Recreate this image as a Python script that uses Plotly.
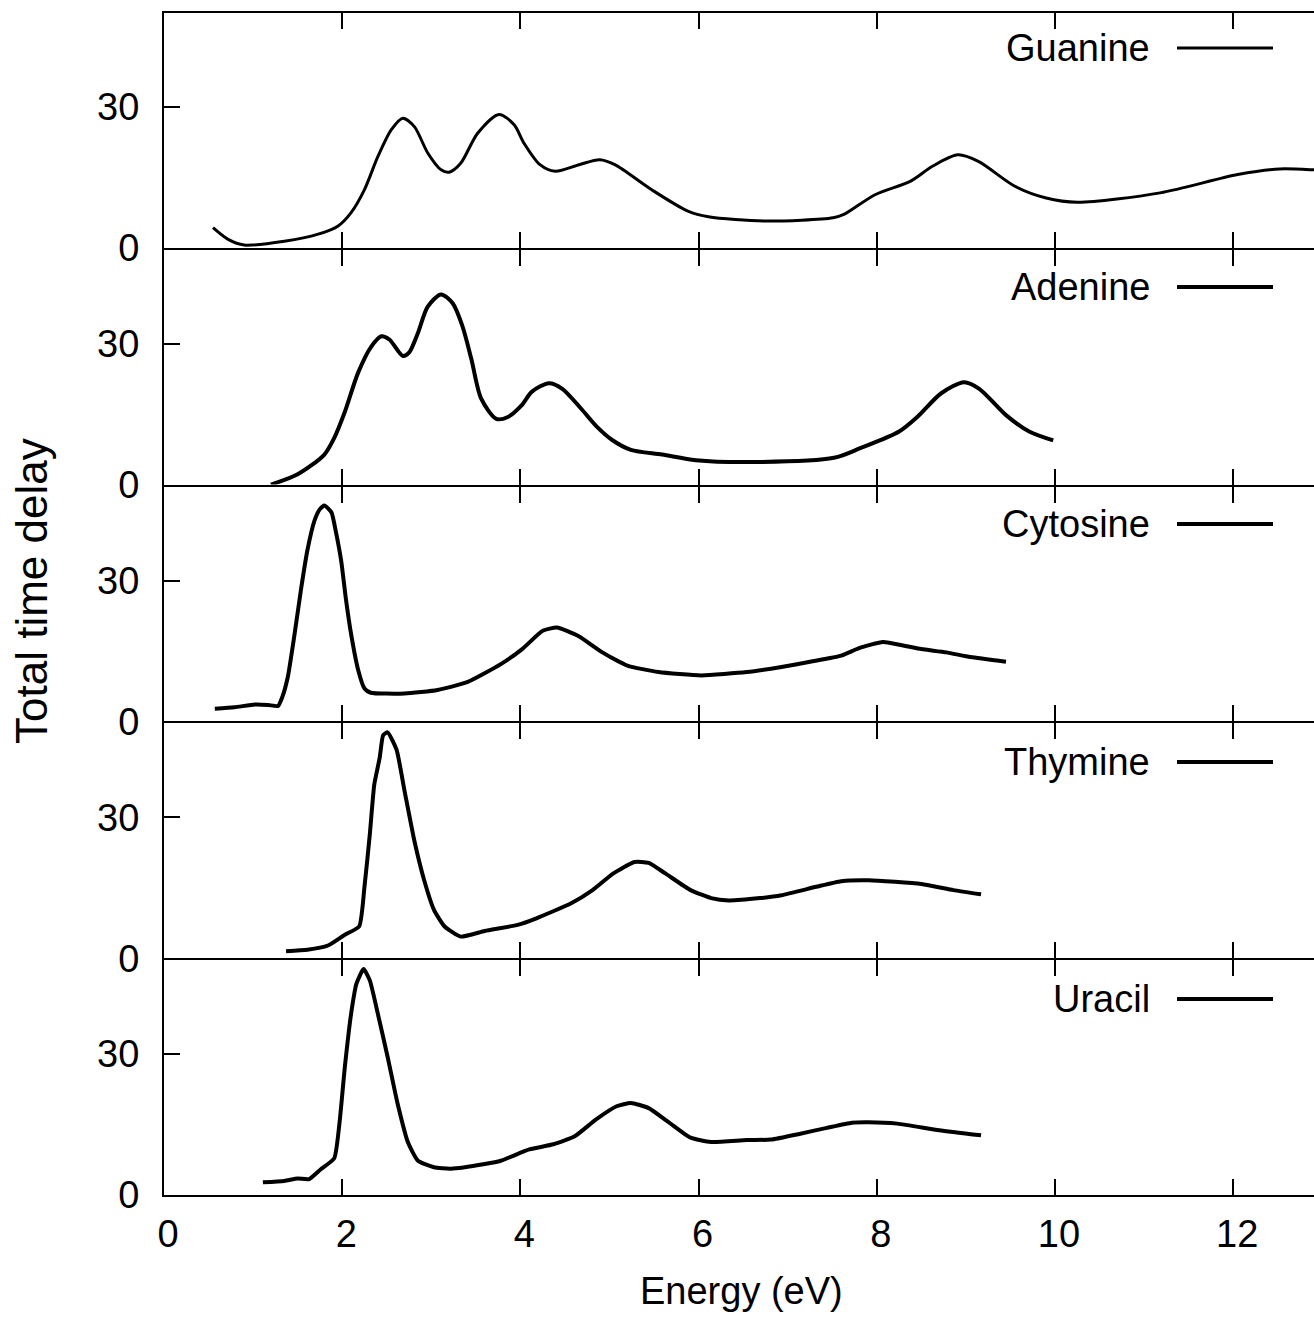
import plotly.graph_objects as go

# ---- data: total time delay vs. electron energy for each nucleobase ----
names = ["Guanine", "Adenine", "Cytosine", "Thymine", "Uracil"]

energy_guanine = [0.55, 0.72, 0.90, 1.35, 1.73, 1.95, 2.10, 2.25, 2.40, 2.55, 2.68, 2.81,
                  2.96, 3.11, 3.20, 3.33, 3.52, 3.76, 3.93, 4.04, 4.22, 4.39, 4.66, 4.89,
                  5.06, 5.47, 5.88, 6.11, 6.75, 7.51, 7.63, 7.98, 8.38, 8.62, 8.91, 9.14,
                  9.55, 9.90, 10.25, 11.18, 12.05, 12.52, 12.91, 13.0]
delay_guanine = [4.3, 1.8, 0.6, 1.4, 2.9, 4.6, 7.5, 12.4, 19.4, 25.1, 27.6, 25.8,
                 20.2, 16.6, 16.1, 18.0, 24.4, 28.4, 26.2, 22.3, 17.7, 16.3, 17.7, 18.75,
                 17.7, 12.4, 7.8, 6.6, 5.7, 6.4, 7.1, 11.3, 14.2, 17.3, 19.8, 18.4,
                 13.1, 10.6, 9.7, 11.7, 15.6, 16.8, 16.6, 16.5]

energy_adenine = [1.20, 1.50, 1.80, 1.91, 2.03, 2.18, 2.33, 2.44, 2.53, 2.68, 2.75, 2.85,
                  2.96, 3.11, 3.24, 3.35, 3.45, 3.56, 3.73, 3.86, 4.01, 4.13, 4.32, 4.47,
                  4.68, 4.86, 5.03, 5.24, 5.59, 5.97, 6.57, 7.52, 7.82, 8.25, 8.46, 8.72,
                  8.98, 9.15, 9.45, 9.71, 9.98]
delay_adenine = [0.0, 2.2, 6.4, 9.9, 15.5, 23.9, 29.5, 31.6, 30.9, 27.4, 28.1, 32.3,
                 37.9, 40.5, 38.6, 33.7, 26.7, 18.3, 14.0, 14.4, 16.8, 19.8, 21.6, 20.4,
                 16.2, 12.3, 9.5, 7.4, 6.4, 5.2, 4.8, 5.7, 7.8, 11.3, 14.5, 19.4,
                 21.8, 20.4, 14.8, 11.3, 9.4]

energy_cytosine = [0.57, 0.79, 1.02, 1.17, 1.28, 1.33, 1.39, 1.46, 1.54, 1.61, 1.69, 1.75,
                   1.80, 1.88, 1.93, 1.99, 2.04, 2.10, 2.18, 2.25, 2.32, 2.70, 3.07, 3.41,
                   3.78, 4.02, 4.25, 4.41, 4.65, 4.92, 5.20, 5.55, 6.03, 6.54, 6.93, 7.28,
                   7.60, 7.80, 8.07, 8.31, 8.50, 8.78, 9.05, 9.45]
delay_cytosine = [2.7, 3.0, 3.6, 3.5, 3.3, 5.3, 9.5, 17.9, 28.4, 36.5, 42.8, 45.2,
                  46.0, 44.5, 40.3, 34.0, 26.3, 18.6, 10.9, 7.0, 6.1, 5.95, 6.7, 8.4,
                  12.2, 15.4, 19.3, 20.0, 18.2, 14.7, 11.9, 10.5, 9.8, 10.5, 11.6, 12.8,
                  14.0, 15.6, 16.9, 16.1, 15.4, 14.7, 13.7, 12.7]

energy_thymine = [1.37, 1.61, 1.84, 2.03, 2.19, 2.25, 2.31, 2.36, 2.42, 2.46, 2.51, 2.61,
                  2.70, 2.81, 2.92, 3.03, 3.15, 3.33, 3.60, 3.97, 4.18, 4.57, 4.81, 5.04,
                  5.28, 5.44, 5.63, 5.91, 6.14, 6.34, 6.69, 6.93, 7.32, 7.60, 7.91, 8.50,
                  8.86, 9.17]
delay_thymine = [1.5, 1.8, 2.7, 5.0, 6.75, 15.2, 26.4, 37.0, 42.6, 47.5, 48.1, 44.4,
                 35.6, 25.0, 16.6, 10.3, 6.75, 4.6, 5.8, 7.1, 8.5, 11.7, 14.5, 18.0,
                 20.5, 20.3, 18.0, 14.5, 12.8, 12.3, 12.8, 13.4, 15.2, 16.4, 16.6, 15.8,
                 14.5, 13.6]

energy_uracil = [1.11, 1.35, 1.50, 1.63, 1.76, 1.91, 1.97, 2.03, 2.10, 2.16, 2.24, 2.31,
                 2.40, 2.51, 2.62, 2.74, 2.85, 3.03, 3.22, 3.60, 3.78, 4.10, 4.37, 4.61,
                 4.85, 5.08, 5.24, 5.44, 5.67, 5.91, 6.14, 6.54, 6.81, 7.13, 7.44, 7.72,
                 7.91, 8.23, 8.70, 9.17]
delay_uracil = [2.7, 3.0, 3.5, 3.4, 5.5, 7.8, 15.4, 27.3, 38.6, 45.0, 48.1, 45.7,
                38.6, 29.4, 19.6, 11.1, 7.3, 5.9, 5.6, 6.6, 7.3, 9.7, 10.8, 12.5,
                16.1, 18.9, 19.6, 18.5, 15.4, 12.2, 11.3, 11.7, 11.8, 13.0, 14.3, 15.4,
                15.5, 15.2, 13.8, 12.7]

x_ticks = [0, 2, 4, 6, 8, 10, 12]
y_ticks = [0, 30]
x_title = "Energy (eV)"
y_title = "Total time delay"

energies = [energy_guanine, energy_adenine, energy_cytosine, energy_thymine, energy_uracil]
delays = [delay_guanine, delay_adenine, delay_cytosine, delay_thymine, delay_uracil]
widths = [3, 4, 4, 4, 4]
smooth = [0.8, 0.8, 0.5, 0.5, 0.5]

# ---- page geometry (pixels) ----
W, H = 1314, 1319
L, R, T, B = 164, 0, 13, 124
plot_w = W - L - R
plot_h = H - T - B
gap = 2
n = len(names)
panel_h = (plot_h - (n - 1) * gap) / n
x_unit = 89.1
x_max = plot_w / x_unit

FONT = "Liberation Sans, Arial, Helvetica, sans-serif"
FS = 38


def px_x(px):
    return (px - L) / plot_w


def px_y(py):
    return (H - B - py) / plot_h


fig = go.Figure()
layout = dict(
    width=W, height=H,
    margin=dict(l=L, r=R, t=T, b=B, pad=0),
    paper_bgcolor="white", plot_bgcolor="white",
    showlegend=False,
    font=dict(family=FONT, size=FS, color="black"),
)

legend_y = [48, 287, 524, 762, 999]

for i, name in enumerate(names):
    k = i + 1
    xa = "x" if k == 1 else f"x{k}"
    ya = "y" if k == 1 else f"y{k}"
    top_in = i * (panel_h + gap)
    dom = [1 - (top_in + panel_h) / plot_h, 1 - top_in / plot_h]

    fig.add_trace(go.Scatter(
        x=energies[i], y=delays[i], mode="lines", name=name,
        line=dict(color="black", width=widths[i], shape="spline", smoothing=smooth[i]),
        xaxis=xa, yaxis=ya, cliponaxis=True,
    ))

    layout[f"xaxis{'' if k == 1 else k}"] = dict(
        domain=[0, 1], anchor=ya, range=[0, x_max],
        matches=None if k == 1 else "x",
        tickvals=x_ticks, ticktext=[str(v) for v in x_ticks],
        showticklabels=(k == n),
        ticks="inside", ticklen=16, tickwidth=2, tickcolor="black",
        showline=True, linewidth=2, linecolor="black", mirror="ticks",
        showgrid=False, zeroline=False,
        ticklabelstandoff=4, ticklabelshift=4,
        tickfont=dict(family=FONT, size=FS, color="black"),
    )
    layout[f"yaxis{'' if k == 1 else k}"] = dict(
        domain=dom, anchor=xa, range=[0, 50],
        tickvals=y_ticks, ticktext=[str(v) for v in y_ticks],
        ticks="inside", ticklen=16, tickwidth=2, tickcolor="black",
        showline=True, linewidth=2, linecolor="black", mirror=False,
        showgrid=False, zeroline=False,
        ticklabelstandoff=15,
        tickfont=dict(family=FONT, size=FS, color="black"),
    )
    # short mirrored ticks on the right-hand side
    layout[f"yaxis{k + n}"] = dict(
        overlaying=ya, side="right", anchor=xa, range=[0, 50],
        tickvals=y_ticks, ticks="inside", ticklen=9, tickwidth=2, tickcolor="black",
        showticklabels=False, showline=False, showgrid=False, zeroline=False,
    )

    # key: label followed by a line sample
    ly = px_y(legend_y[i])
    fig.add_annotation(
        x=px_x(1152), y=ly, xref="paper", yref="paper",
        text=name, showarrow=False, xanchor="right", yanchor="middle",
        font=dict(family=FONT, size=FS, color="black"),
    )
    fig.add_shape(
        type="line", xref="paper", yref="paper",
        x0=px_x(1177), x1=px_x(1273), y0=ly, y1=ly,
        line=dict(color="black", width=widths[i]),
    )

fig.update_layout(**layout)

# axis titles
fig.add_annotation(
    x=px_x(741.5), y=px_y(1291), xref="paper", yref="paper",
    text=x_title, showarrow=False, xanchor="center", yanchor="middle",
    font=dict(family=FONT, size=FS, color="black"),
)
fig.add_annotation(
    x=px_x(31), y=px_y(591), xref="paper", yref="paper",
    text=y_title, showarrow=False, textangle=-90, xanchor="center", yanchor="middle",
    font=dict(family=FONT, size=44, color="black"),
)

fig.write_html("out.html")
